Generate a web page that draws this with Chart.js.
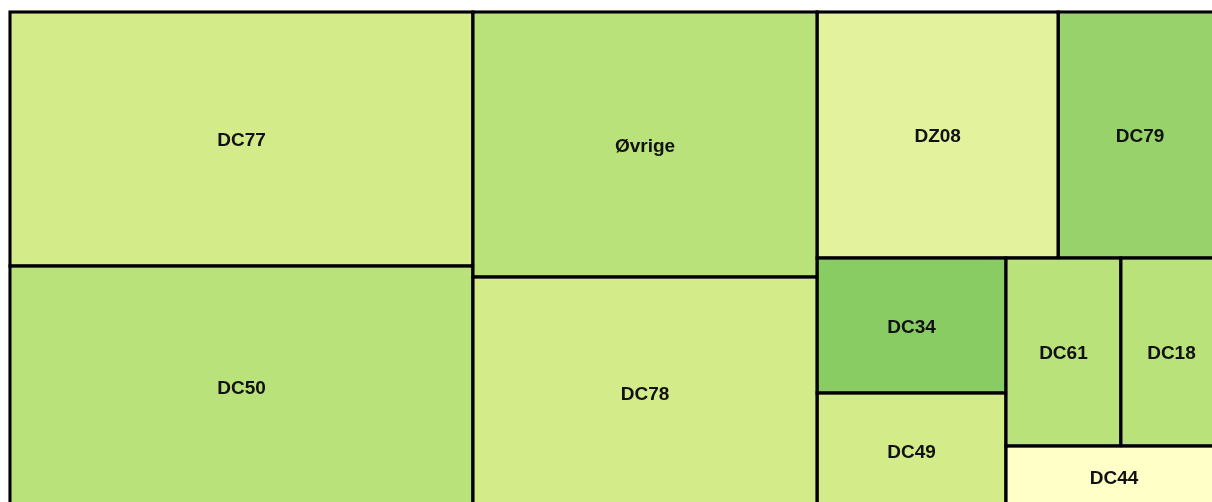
<!DOCTYPE html>
<html>
<head>
<meta charset="utf-8">
<script src="https://cdn.jsdelivr.net/npm/chart.js@4.4.1/dist/chart.umd.min.js"></script>
<style>
  html, body { margin: 0; padding: 0; overflow: hidden; background: #fff; width: 1212px; height: 502px; }
  #wrap { position: absolute; left: 0; top: 0; }
</style>
</head>
<body>
<div id="wrap"><canvas id="c" width="1240" height="530"></canvas></div>
<script>
// ---- data ----
const categories = ['DC77', 'DC50', 'Øvrige', 'DC78', 'DZ08', 'DC79', 'DC34', 'DC49', 'DC61', 'DC18', 'DC44'];
const values     = [1176,   1120,   912,      795,    593,    403,    255,    217,    216,    190,    134];
const cellColors = ['#d4eb8a', '#bae27a', '#bae27a', '#d4eb8a', '#e2f29d', '#98d26a', '#89cc64', '#d4eb8a', '#bae27a', '#bae27a', '#ffffc8'];

// ---- squarified layout (normalized 0..1 in each axis) ----
function squarify(vals, W, H) {
  const idx = vals.map((v, i) => i).sort((a, b) => vals[b] - vals[a]);
  const total = vals.reduce((s, v) => s + v, 0);
  const k = (W * H) / total;
  const areas = idx.map(i => vals[i] * k);
  const out = new Array(vals.length);
  let x = 0, y = 0, w = W, h = H, i = 0;
  const worst = (row, s) => {
    const sum = row.reduce((a, b) => a + b, 0);
    const mx = Math.max(...row), mn = Math.min(...row);
    return Math.max((s * s * mx) / (sum * sum), (sum * sum) / (s * s * mn));
  };
  while (i < areas.length) {
    const s = Math.min(w, h);
    let row = [areas[i]], j = i + 1, best = worst(row, s);
    while (j < areas.length) {
      const cand = row.concat(areas[j]);
      const wc = worst(cand, s);
      if (wc <= best) { row = cand; best = wc; j++; } else break;
    }
    const rs = row.reduce((a, b) => a + b, 0);
    if (w >= h) {
      const cw = rs / h; let cy = y;
      row.forEach((a, n) => { const ch = a / cw; out[idx[i + n]] = { x0: x / W, x1: (x + cw) / W, y0: cy / H, y1: (cy + ch) / H }; cy += ch; });
      x += cw; w -= cw;
    } else {
      const rh = rs / w; let cx = x;
      row.forEach((a, n) => { const cwid = a / rh; out[idx[i + n]] = { x0: cx / W, x1: (cx + cwid) / W, y0: y / H, y1: (y + rh) / H }; cx += cwid; });
      y += rh; h -= rh;
    }
    i = j;
  }
  return out;
}

// ---- custom treemap controller built on Chart.js BarElement ----
class TreemapController extends Chart.DatasetController {
  update(mode) {
    const meta = this._cachedMeta;
    this.updateElements(meta.data, 0, meta.data.length, mode);
  }
  updateElements(rects, start, count, mode) {
    const meta = this._cachedMeta;
    const xs = meta.xScale, ys = meta.yScale;
    const data = this.getDataset().data;
    const W = Math.abs(xs.getPixelForValue(1) - xs.getPixelForValue(0));
    const H = Math.abs(ys.getPixelForValue(1) - ys.getPixelForValue(0));
    const layout = squarify(data, W, H);
    for (let i = start; i < start + count; i++) {
      const r = layout[i];
      const opts = this.resolveDataElementOptions(i, mode);
      const half = opts.borderWidth / 2;
      const left = xs.getPixelForValue(r.x0), right = xs.getPixelForValue(r.x1);
      const top = ys.getPixelForValue(r.y0), bottom = ys.getPixelForValue(r.y1);
      Object.assign(rects[i], {
        x: (left + right) / 2,
        y: top - half,
        base: bottom + half,
        width: right - left + 2 * half,
        height: bottom - top + 2 * half,
        horizontal: false,
        inflateAmount: 0,
        borderSkipped: {},
        enableBorderRadius: false,
        options: opts
      });
    }
  }
  draw() {
    super.draw();
    const ctx = this.chart.ctx;
    const labels = this.chart.data.labels;
    const meta = this._cachedMeta;
    ctx.save();
    ctx.font = 'bold 19px "Liberation Sans", Arial, sans-serif';
    ctx.fillStyle = '#111';
    ctx.textAlign = 'center';
    ctx.textBaseline = 'middle';
    meta.data.forEach((el, i) => {
      ctx.fillText(labels[i], el.x, (el.y + el.base) / 2 + 2);
    });
    ctx.restore();
  }
}
TreemapController.id = 'treemap';
TreemapController.defaults = { datasetElementType: false, dataElementType: 'bar' };
TreemapController.overrides = {};
Chart.register(TreemapController);

new Chart(document.getElementById('c'), {
  type: 'treemap',
  data: {
    labels: categories,
    datasets: [{
      data: values,
      backgroundColor: cellColors,
      borderColor: '#000',
      borderWidth: 3.5,
      clip: false
    }]
  },
  options: {
    responsive: false,
    animation: false,
    events: [],
    layout: { padding: { left: 10, top: 12, right: 18, bottom: 22 } },
    scales: {
      x: { type: 'linear', min: 0, max: 1, display: false },
      y: { type: 'linear', min: 0, max: 1, reverse: true, display: false }
    },
    plugins: { legend: { display: false }, tooltip: { enabled: false }, title: { display: false } }
  }
});
</script>
</body>
</html>
